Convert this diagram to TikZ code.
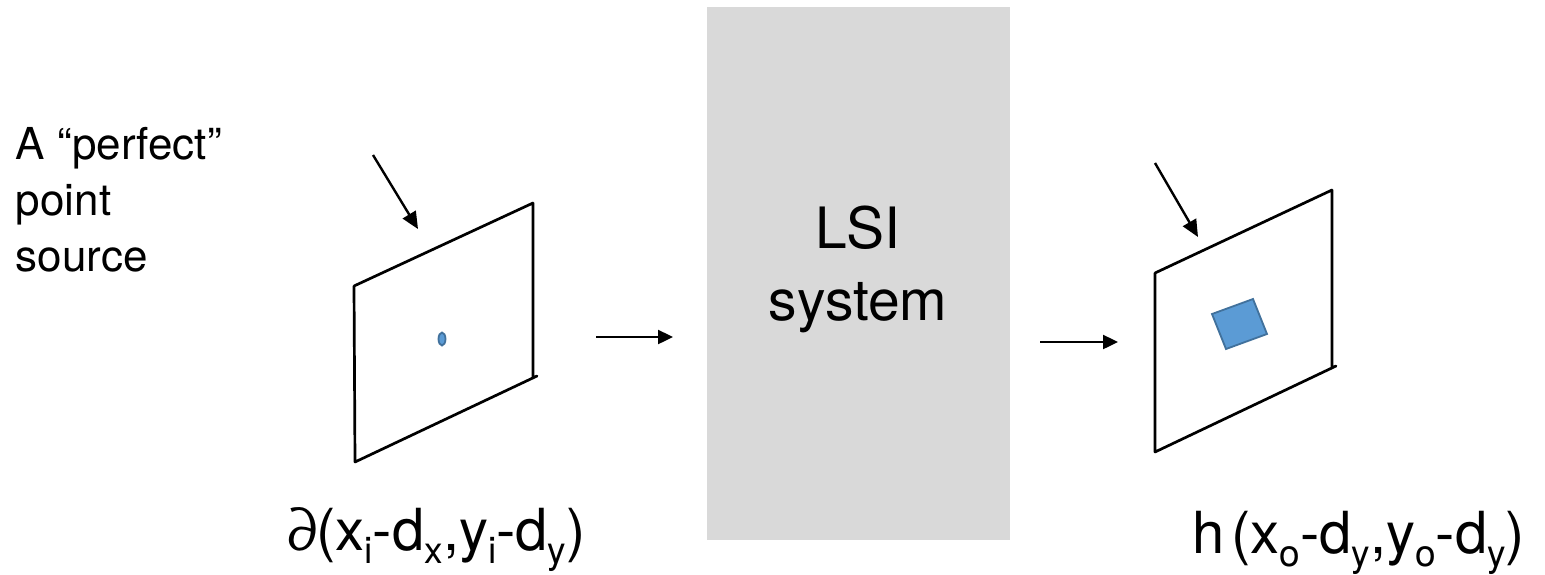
\documentclass[tikz,border=0pt]{standalone}
\usepackage{fontspec}
\setmainfont{TeX Gyre Heros}
\usetikzlibrary{arrows.meta,shapes.geometric}
\definecolor{boxgray}{HTML}{D9D9D9}
\definecolor{spotfill}{HTML}{5B9BD5}
\definecolor{spotline}{HTML}{41719C}
% lowered subscript set in text font
\newcommand{\lowsub}[1]{\raisebox{-0.24em}{\fontsize{37}{40}\selectfont #1}}
\begin{document}
\begin{tikzpicture}[x=1pt,y=-1pt,
  frameline/.style={line width=2.7pt,line cap=round},
  pointer/.style={line width=2.4pt,-{Triangle[length=17pt,width=15pt]}},
  flow/.style={line width=2.4pt,-{Triangle[length=15pt,width=14pt]}},
  spot/.style={fill=spotfill,draw=spotline,line width=1.8pt},
  plain/.style={inner sep=0pt,outer sep=0pt}]
\useasboundingbox (0,0) rectangle (1545,574);

% the LSI system block
\fill[boxgray] (707,7) rectangle (1010,540);
\node[plain,font=\fontsize{57}{72}\selectfont,anchor=base] (lsi) at (858,248) {LSI};
\node[plain,font=\fontsize{57}{72}\selectfont,anchor=base] (sys) at (858,320) {system};

% caption on the left
\node[plain,align=left,anchor=north west,font=\fontsize{44}{56}\selectfont] (src) at (16,127) {A “perfect”\\point\\source};

% input plane
\coordinate (iTL) at (354,286);
\coordinate (iTR) at (533,203);
\coordinate (iBR) at (533,378);
\coordinate (iBL) at (355,462);
\draw[frameline] (iTL) -- (iTR) (iTR) -- (iBR) (iBL) -- (537,376) (iTL) -- (iBL);
\node[spot,ellipse,minimum width=7pt,minimum height=13pt,inner sep=0pt] (dot) at (442,339) {};

% output plane
\coordinate (oTL) at (1155,273);
\coordinate (oTR) at (1332,190);
\coordinate (oBR) at (1332,368);
\coordinate (oBL) at (1155,452);
\draw[frameline] (oTL) -- (oTR) (oTR) -- (oBR) (oBL) -- (1336,366) (oTL) -- (oBL);
\draw[spot] (1212,314) -- (1253,299) -- (1267,334) -- (1226,349) -- cycle;

% pointers onto the planes
\coordinate (pA0) at (373,155);
\coordinate (pA1) at (418,229);
\draw[pointer] (pA0) -- (pA1);
\coordinate (pB0) at (1155,163);
\coordinate (pB1) at (1198,237);
\draw[pointer] (pB0) -- (pB1);

% flow arrows
\coordinate (fA0) at (596,337);
\coordinate (fA1) at (673,337);
\draw[flow] (fA0) -- (fA1);
\coordinate (fB0) at (1040,342);
\coordinate (fB1) at (1118,342);
\draw[flow] (fB0) -- (fB1);

% formulas under the planes
\node[plain,anchor=base west,font=\fontsize{58}{64}\selectfont] (inlbl) at (288,550)
  {∂(x\lowsub{i}-d\lowsub{x},y\lowsub{i}-d\lowsub{y})};
\node[plain,anchor=base west,font=\fontsize{58}{64}\selectfont] (outlbl) at (1192,553)
  {h\hspace{0.12em}(x\lowsub{o}-d\lowsub{y},y\lowsub{o}-d\lowsub{y})};
\end{tikzpicture}
\end{document}
